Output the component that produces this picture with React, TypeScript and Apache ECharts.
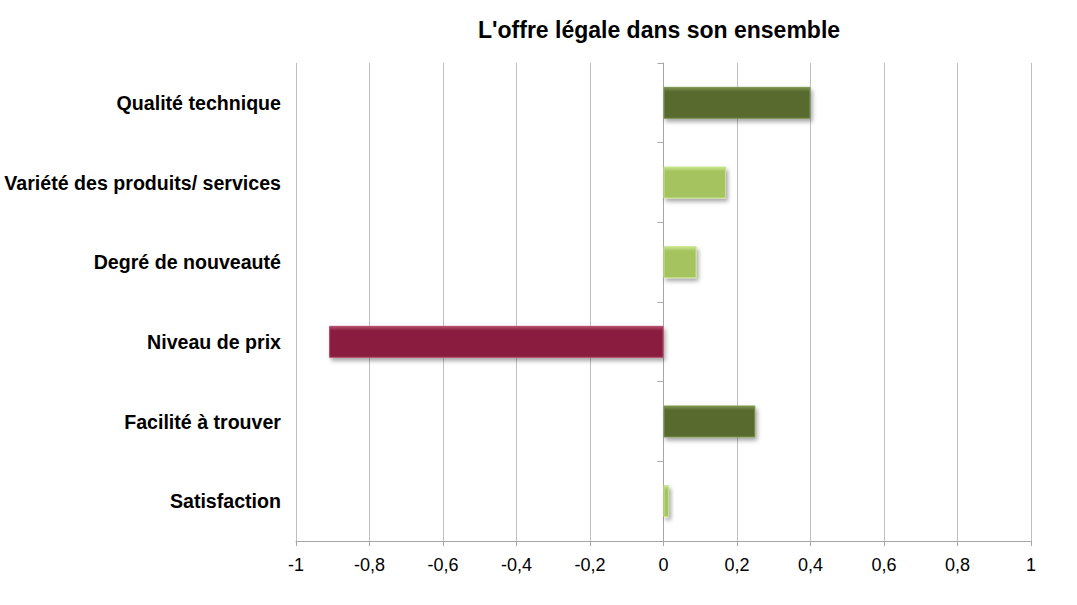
import React, { useEffect, useRef } from "react";
import * as echarts from "echarts";

const categories = [
  "Qualité technique",
  "Variété des produits/ services",
  "Degré de nouveauté",
  "Niveau de prix",
  "Facilité à trouver",
  "Satisfaction",
];
const values = [0.4, 0.17, 0.09, -0.91, 0.25, 0.015];
const barColors = ["#596b2f", "#a5c461", "#a5c461", "#8a1f40", "#596b2f", "#a5c461"];
const lightColors = ["#7f9450", "#c9e58a", "#c9e58a", "#b54c6c", "#7f9450", "#c9e58a"];
const titleText = "L'offre légale dans son ensemble";

export default function App() {
  const ref = useRef<HTMLDivElement>(null);
  useEffect(() => {
    if (!ref.current) return;
    const chart = echarts.init(ref.current, null, { renderer: "svg" });
    chart.setOption({
      animation: false,
      backgroundColor: "#ffffff",
      title: {
        text: titleText,
        left: 473,
        top: 13,
        textStyle: {
          fontFamily: "Liberation Sans, Arial, sans-serif",
          fontSize: 23,
          fontWeight: "bold",
          color: "#000",
        },
      },
      grid: { left: 296, right: 46, top: 63, bottom: 64, containLabel: false },
      xAxis: {
        type: "value",
        min: -1,
        max: 1,
        interval: 0.2,
        axisLine: { show: true, lineStyle: { color: "#a6a6a6", width: 1 } },
        axisTick: { show: true, length: 5, lineStyle: { color: "#a6a6a6" } },
        splitLine: { show: true, lineStyle: { color: "#bfbfbf", width: 1 } },
        axisLabel: {
          fontFamily: "Liberation Sans, Arial, sans-serif",
          fontSize: 18,
          color: "#000",
          margin: 15,
          formatter: (v: number) => {
            const r = Math.round(v * 10) / 10;
            return String(r).replace(".", ",");
          },
        },
      },
      yAxis: {
        type: "category",
        data: categories,
        inverse: true,
        axisLine: { show: true, lineStyle: { color: "#a6a6a6", width: 1 } },
        axisTick: { show: true, length: 6, lineStyle: { color: "#a6a6a6" } },
        splitLine: { show: false },
        axisLabel: {
          fontFamily: "Liberation Sans, Arial, sans-serif",
          fontSize: 19.6,
          fontWeight: "bold",
          color: "#000",
          margin: 15,
        },
      },
      series: [
        {
          type: "bar",
          barWidth: 32,
          data: values.map((v, i) => ({
            value: v,
            itemStyle: {
              color: new echarts.graphic.LinearGradient(0, 0, 0, 1, [
                { offset: 0, color: lightColors[i] },
                { offset: 0.14, color: barColors[i] },
                { offset: 0.88, color: barColors[i] },
                { offset: 1, color: barColors[i] },
              ]),
              borderColor: lightColors[i],
              borderWidth: 1,
              shadowBlur: 4,
              shadowOffsetX: 2,
              shadowOffsetY: 3,
              shadowColor: "rgba(0,0,0,0.35)",
            },
          })),
        },
      ],
    });
    return () => chart.dispose();
  }, []);
  return (
    <div
      ref={ref}
      style={{ position: "fixed", left: 0, top: 0, width: 1077, height: 605 }}
    />
  );
}
